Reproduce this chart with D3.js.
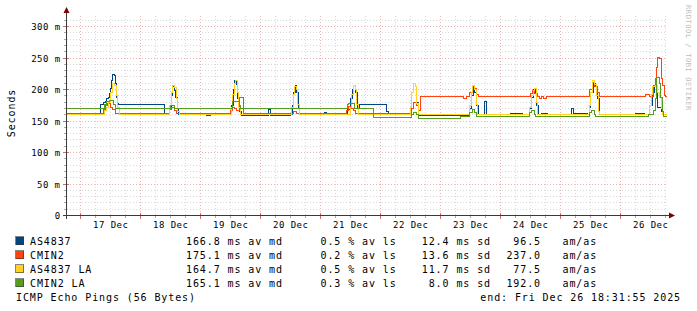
<!DOCTYPE html>
<html><head><meta charset="utf-8">
<script src="https://cdn.jsdelivr.net/npm/d3@7"></script>
<style>
html,body{margin:0;padding:0;background:#fff;}
svg{display:block;}
text{font-family:"DejaVu Sans Mono", monospace;}
</style></head><body>
<svg id="c" width="697" height="311"></svg>
<script>
// ---------- DATA ----------
const startTime = new Date(2025, 11, 16, 18, 31, 55);
const endTime = new Date(2025, 11, 26, 18, 31, 55);
const seriesNames = ["AS4837", "CMIN2", "AS4837 LA", "CMIN2 LA"];
const seriesColors = ["#004586", "#ff420e", "#ffd320", "#579d1c"];

// hours since start, median RTT in ms (step values)
const hoursAs4837 = [0,13.2,14.4,15.2,15.8,16.4,17.0,17.4,17.8,18.2,19.0,19.4,19.8,20.2,20.6,39.0,40.8,41.6,42.2,42.8,43.4,44.0,44.6,55.6,57.2,65.8,66.4,67.0,67.6,68.2,68.8,69.6,80.4,81.2,89.2,90.0,90.6,91.2,91.8,92.4,93.0,102.8,103.8,112.0,113.2,114.0,114.6,115.2,116.0,116.8,127.8,128.6,137.2,138.0,138.6,139.2,139.8,140.6,160.8,161.6,162.4,163.0,163.6,164.4,166.8,167.6,177.2,182.0,184.8,185.6,186.4,187.2,187.8,188.4,190.0,192.0,201.6,202.4,208.0,208.8,209.6,210.4,211.2,212.0,212.8,227.2,230.8,232.8,234.0,234.8,235.6,236.4,237.6,238.4,240];
const msAs4837 = [160,176,179,181,185,188,193,201,214,224,222,209,188,177,176,160,172,190,204,198,188,170,160,158,160,175,200,215,208,185,165,159,168,158.5,160,175,195,206,196,172,160,164,160,168,185,200,206,195,172,176,165,160,172,195,209,205,180,159,170,190,204,196,175,160,181,160,162.5,160,170,188,200,195,175,160,161.5,160,170,162,160,172,195,210,205,185,160,161.5,160,175,195,205,198,172,165,160,160];

const hoursCmin2 = [0,14.4,15.2,16.2,17.2,18.2,19.2,40.8,41.8,43.0,43.6,65.2,66.0,66.8,67.6,69.0,70.4,90.4,91.6,111.6,112.6,113.6,114.4,115.2,137.6,138.4,139.6,140.6,141.4,158.4,159.6,161.2,162.2,163.0,163.6,164.4,185.2,186.0,187.0,188.0,188.8,189.6,190.4,191.6,208.8,210.0,211.0,212.0,212.8,231.2,232.8,234.4,235.2,235.8,236.4,237.0,237.6,238.2,238.8,239.4,240];
const msCmin2 = [162.5,168,175,178,172,168,162.5,168,172,166,162.5,167,172,170,166,188,162.5,165,162.5,167,173,170,166,162.5,170,180,175,166,189,186,189,196,204,201,192,189,194,198,193,189,186,189,186,189,200,211,204,196,189,192,189,206,217,235,251,249,217,206,190,189,189];

const hoursAs4837La = [0,14.8,15.6,16.4,17.2,18.0,19.0,19.6,20.2,20.8,41.0,41.6,42.2,43.0,43.6,44.2,44.8,65.6,66.2,66.8,67.4,68.0,68.6,69.2,89.8,90.4,91.0,91.6,92.2,92.8,113.2,113.8,114.4,115.2,115.8,116.4,137.2,137.8,138.4,139.2,139.8,140.4,161.0,161.6,162.2,163.0,163.6,164.2,185.0,185.6,186.4,187.0,187.6,188.2,208.8,209.4,210.2,211.0,211.8,212.4,213.0,233.0,233.6,234.2,235.2,236.0,236.8,237.6,238.2,240];
const msAs4837La = [160,166,172,180,195,209,207,190,172,160,175,195,206,203,185,165,160,172,192,210,214,195,172,160,172,192,204,200,176,160,172,192,206,200,176,160,172,195,209,204,178,160,175,195,206,200,176,160,172,190,198,202,180,160,175,195,214,208,190,165,160,175,192,204,206,196,188,170,160,160];

const hoursCmin2La = [0,15.0,15.6,16.8,18.6,19.2,41.2,42.8,66.2,68.8,69.4,112.0,112.6,115.0,122.6,137.8,138.4,139.8,140.4,157.2,161.2,162.0,163.0,163.8,185.0,185.8,186.8,187.4,209.0,209.8,210.8,211.4,232.4,234.4,235.2,235.8,236.8,237.4,238.0,238.4,240];
const msCmin2La = [170.5,176,181,183,176,170.5,175,170.5,181,175,169.5,176,178,169.5,156,160,164,160,154.5,157,163,169,164,157,163,167,161,157,163,167,161,157,160,166,185,219,209,188,165,157,157];

const yTickValues = [0, 50, 100, 150, 200, 250, 300];
const yTickLabels = ["0", "50 m", "100 m", "150 m", "200 m", "250 m", "300 m"];
const dayLabelDates = [17,18,19,20,21,22,23,24,25,26];
const dayLabels = ["17 Dec","18 Dec","19 Dec","20 Dec","21 Dec","22 Dec","23 Dec","24 Dec","25 Dec","26 Dec"];

const legendMedian = ["166.8", "175.1", "164.7", "165.1"];
const legendLoss = ["0.5", "0.2", "0.5", "0.3"];
const legendSd = ["12.4", "13.6", "11.7", "8.0"];
const legendAmas = ["96.5", "237.0", "77.5", "192.0"];
const footerLeft = "ICMP Echo Pings (56 Bytes)";
const footerRight = "end: Fri Dec 26 18:31:55 2025";
const yAxisTitle = "Seconds";
const watermark = "RRDTOOL / TOBI OETIKER";

// ---------- CHART ----------
const svg = d3.select("#c");
const x = d3.scaleTime().domain([startTime, endTime]).range([66.5, 666.5]);
const y = d3.scaleLinear().domain([0, 200 / 0.63]).range([215.5, 15.5]);
const px = v => Math.floor(v) + 0.5;

const GRID = "#d9d9d9", MGRID = "#eab4b4";

const gGrid = svg.append("g").attr("shape-rendering", "crispEdges");
const minorX = d3.timeHour.every(6).range(startTime, endTime).filter(d => d.getHours() !== 0);
const majorX = d3.timeDay.range(startTime, endTime);
const minorY = d3.range(10, 318, 10).filter(v => v % 50 !== 0);
const majorY = d3.range(50, 318, 50);

gGrid.selectAll(".mx").data(minorX).join("line")
  .attr("x1", d => px(x(d))).attr("x2", d => px(x(d)))
  .attr("y1", 15.5).attr("y2", 215.5)
  .attr("stroke", GRID).attr("stroke-dasharray", "1,2");
gGrid.selectAll(".my").data(minorY).join("line")
  .attr("x1", 66.5).attr("x2", 666.5)
  .attr("y1", d => px(y(d))).attr("y2", d => px(y(d)))
  .attr("stroke", GRID).attr("stroke-dasharray", "1,2");
gGrid.selectAll(".Mx").data(majorX).join("line")
  .attr("x1", d => px(x(d))).attr("x2", d => px(x(d)))
  .attr("y1", 15.5).attr("y2", 215.5)
  .attr("stroke", MGRID).attr("stroke-dasharray", "1,2");
gGrid.selectAll(".My").data(majorY).join("line")
  .attr("x1", 66.5).attr("x2", 666.5)
  .attr("y1", d => px(y(d))).attr("y2", d => px(y(d)))
  .attr("stroke", MGRID).attr("stroke-dasharray", "1,2");

// small ticks
gGrid.selectAll(".tx").data(minorX).join("line")
  .attr("x1", d => px(x(d))).attr("x2", d => px(x(d)))
  .attr("y1", 216).attr("y2", 218).attr("stroke", "#aaa");
gGrid.selectAll(".tX").data(majorX).join("line")
  .attr("x1", d => px(x(d))).attr("x2", d => px(x(d)))
  .attr("y1", 213).attr("y2", 219).attr("stroke", "#c87070");
gGrid.selectAll(".ty").data(minorY).join("line")
  .attr("x1", 64).attr("x2", 66)
  .attr("y1", d => px(y(d))).attr("y2", d => px(y(d))).attr("stroke", "#aaa");
gGrid.selectAll(".tY").data(majorY).join("line")
  .attr("x1", 63).attr("x2", 69)
  .attr("y1", d => px(y(d))).attr("y2", d => px(y(d))).attr("stroke", "#c87070");

// series lines
const allSeries = [
  d3.zip(hoursAs4837, msAs4837),
  d3.zip(hoursCmin2, msCmin2),
  d3.zip(hoursAs4837La, msAs4837La),
  d3.zip(hoursCmin2La, msCmin2La)
];
const toDate = h => new Date(startTime.getTime() + h * 3600000);
const line = d3.line()
  .x(d => Math.round(x(toDate(d[0]))))
  .y(d => px(y(d[1])))
  .curve(d3.curveStepAfter);
const gLines = svg.append("g").attr("shape-rendering", "crispEdges");
allSeries.forEach((s, i) => {
  gLines.append("path").attr("d", line(s))
    .attr("fill", "none").attr("stroke", seriesColors[i]).attr("stroke-width", 1);
});

// axes lines + arrows
const AX = "#3a3a3a", ARROW = "#7f0000";
svg.append("line").attr("x1", 66.5).attr("x2", 66.5).attr("y1", 12).attr("y2", 219)
  .attr("stroke", AX).attr("shape-rendering", "crispEdges");
svg.append("line").attr("x1", 63).attr("x2", 670).attr("y1", 215.5).attr("y2", 215.5)
  .attr("stroke", AX).attr("shape-rendering", "crispEdges");
svg.append("path").attr("d", "M63.5,13 L69.5,13 L66.5,7 Z").attr("fill", ARROW);
svg.append("path").attr("d", "M669,212.5 L669,218.5 L675,215.5 Z").attr("fill", ARROW);

// y axis labels via d3 axis
const yAxis = d3.axisLeft(y).tickValues(yTickValues)
  .tickFormat((d, i) => yTickLabels[i]).tickSize(0).tickPadding(6);
const gy = svg.append("g").attr("transform", "translate(66.5,0)").call(yAxis);
gy.select(".domain").remove();
gy.selectAll("text").attr("font-family", '"DejaVu Sans Mono", monospace')
  .attr("font-size", 9).attr("letter-spacing", 0.45).attr("fill", "#000")
  .attr("dy", "0.36em");

// x axis labels (centred at noon)
const noonDates = dayLabelDates.map(dd => new Date(2025, 11, dd, 12, 0, 0));
const xAxis = d3.axisBottom(x).tickValues(noonDates)
  .tickFormat((d, i) => dayLabels[i]).tickSize(0).tickPadding(0);
const gx = svg.append("g").attr("transform", "translate(0,215.5)").call(xAxis);
gx.select(".domain").remove();
gx.selectAll("text").attr("font-family", '"DejaVu Sans Mono", monospace')
  .attr("font-size", 9).attr("letter-spacing", 0.45).attr("fill", "#000")
  .attr("y", 12).attr("dy", null);

// y title
svg.append("text").attr("transform", "translate(15,113) rotate(-90)")
  .attr("text-anchor", "middle").attr("font-size", 10).attr("letter-spacing", 0.9)
  .attr("fill", "#000").text(yAxisTitle);

// watermark
svg.append("text").attr("transform", "translate(686,5) rotate(90)")
  .attr("text-anchor", "start").attr("font-size", 7).attr("letter-spacing", 0.6)
  .attr("fill", "#bdbdbd").text(watermark);

// legend
const rowY = [244.5, 258.5, 272.5, 286.5];
const gLeg = svg.append("g").attr("font-size", 10).attr("letter-spacing", 0.9).attr("fill", "#000");
seriesNames.forEach((n, i) => {
  gLeg.append("rect").attr("x", 15.5).attr("y", rowY[i] - 8).attr("width", 8).attr("height", 8)
    .attr("fill", seriesColors[i]).attr("stroke", "#333").attr("stroke-opacity", 0.6)
    .attr("shape-rendering", "crispEdges");
  gLeg.append("text").attr("x", 30).attr("y", rowY[i]).text(n);
  gLeg.append("text").attr("x", 186).attr("y", rowY[i]).text(legendMedian[i] + " ms av md");
  gLeg.append("text").attr("x", 320.5).attr("y", rowY[i]).text(legendLoss[i] + " % av ls");
  gLeg.append("text").attr("x", 491).attr("y", rowY[i]).attr("text-anchor", "end").text(legendSd[i] + " ms sd");
  gLeg.append("text").attr("x", 541).attr("y", rowY[i]).attr("text-anchor", "end").text(legendAmas[i]);
  gLeg.append("text").attr("x", 562.5).attr("y", rowY[i]).text("am/as");
});
gLeg.append("text").attr("x", 16).attr("y", 300.5).text(footerLeft);
gLeg.append("text").attr("x", 681).attr("y", 300.5).attr("text-anchor", "end").text(footerRight);
</script>
</body></html>
